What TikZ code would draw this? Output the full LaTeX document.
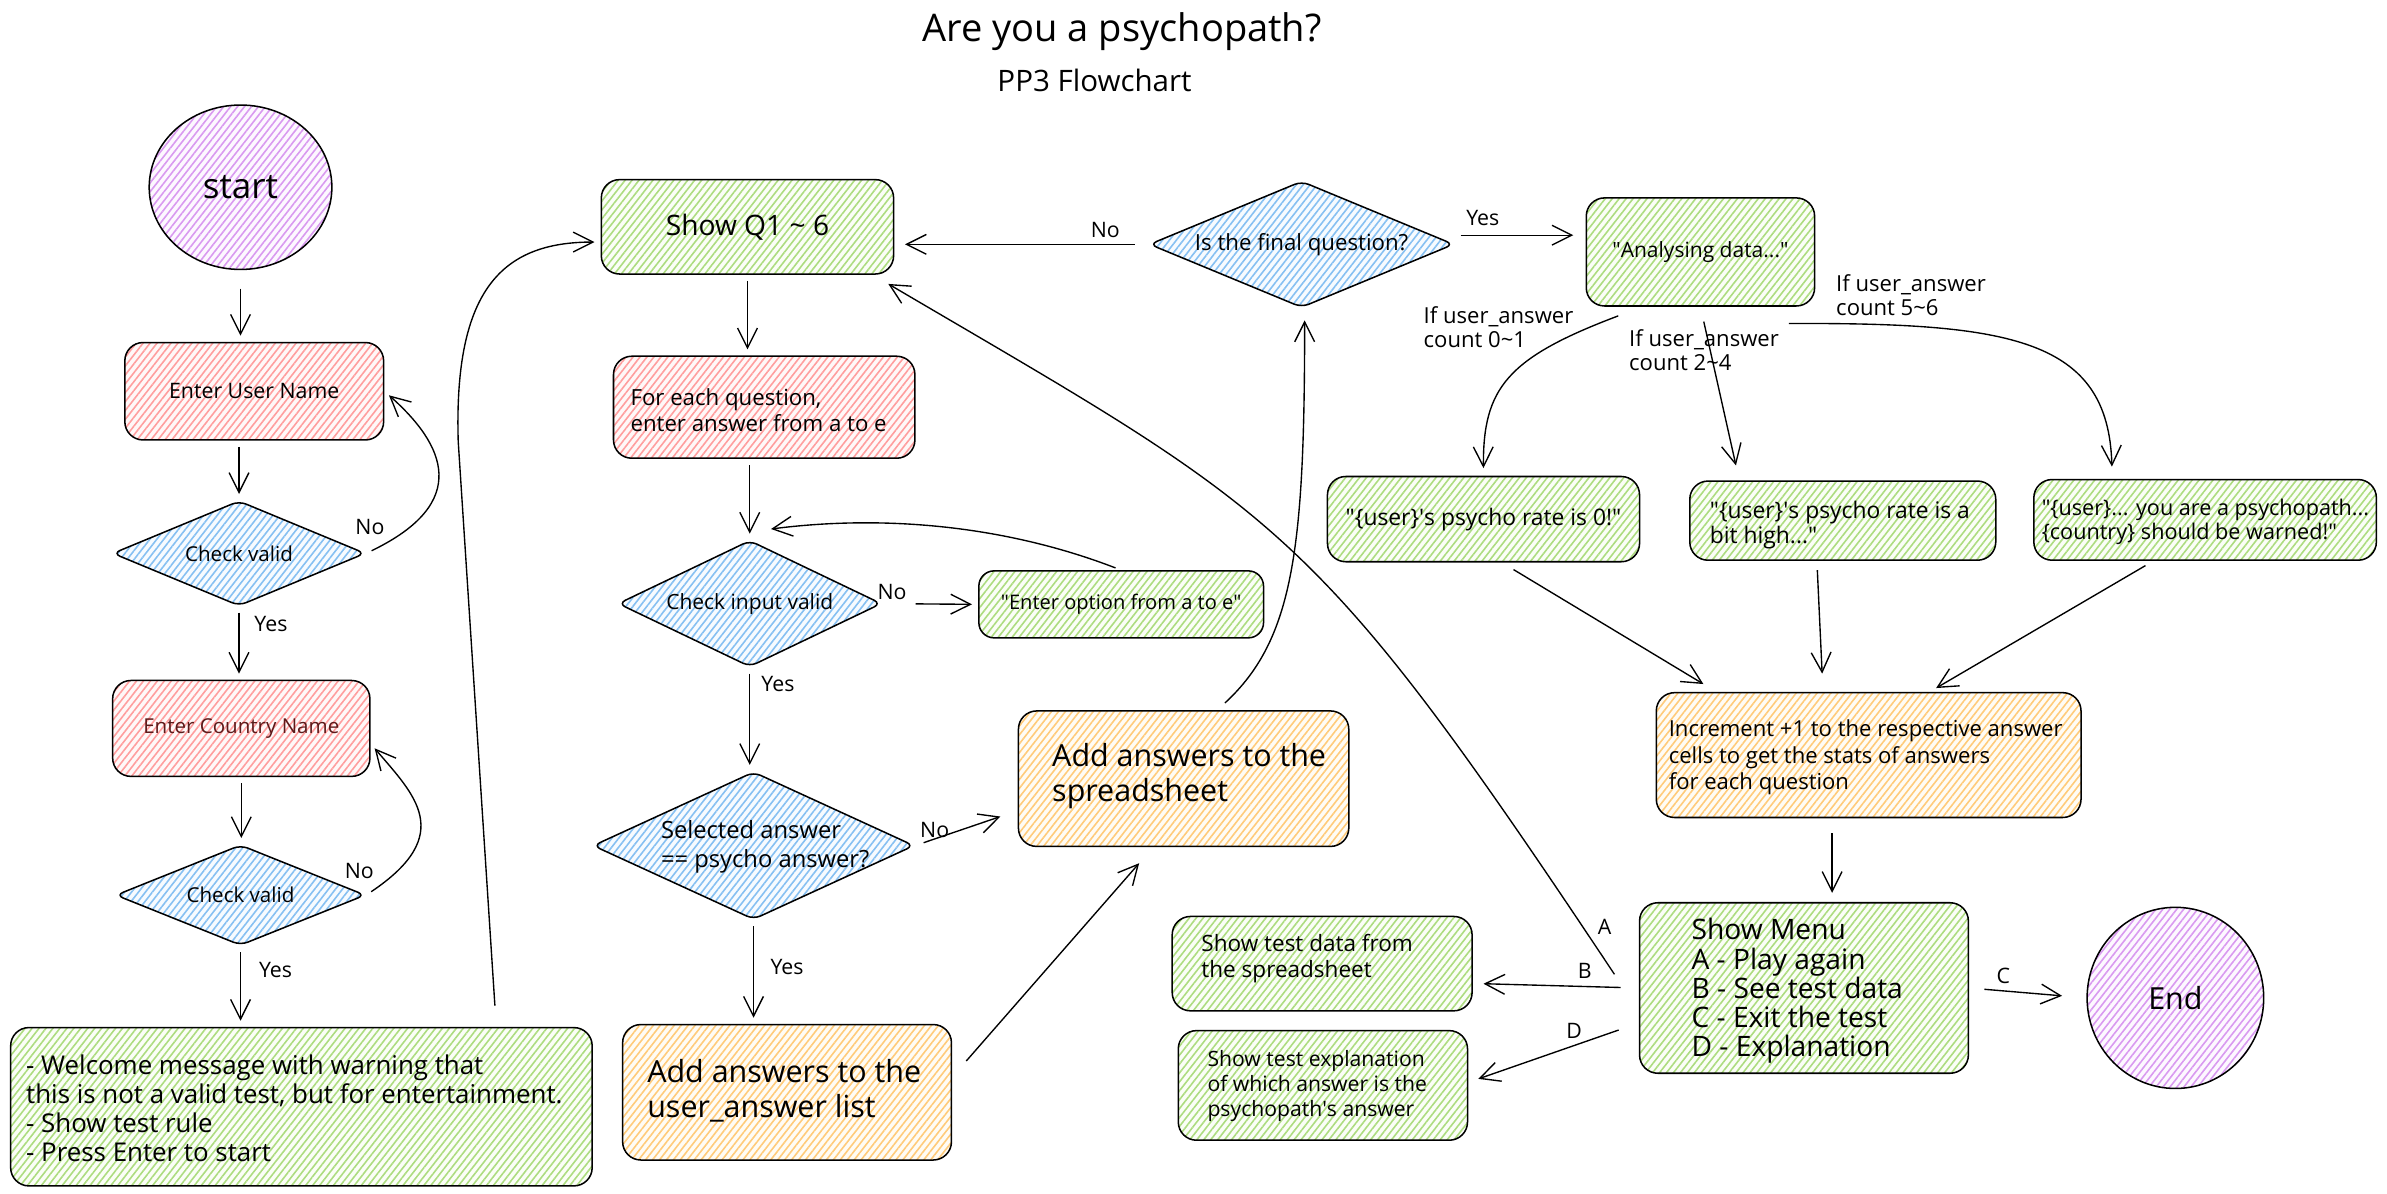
\documentclass[tikz,border=0pt]{standalone}
\usepackage{fontspec}
\setmainfont{Open Sans}
\usetikzlibrary{shapes.geometric,arrows.meta,patterns.meta}
\definecolor{grH}{HTML}{ADDC80}
\definecolor{grL}{HTML}{FBFEF7}
\definecolor{rdH}{HTML}{FF9E9E}
\definecolor{rdL}{HTML}{FFF8F8}
\definecolor{blH}{HTML}{86C0F2}
\definecolor{blL}{HTML}{F7FBFF}
\definecolor{orH}{HTML}{FFCB7A}
\definecolor{orL}{HTML}{FFFCF5}
\definecolor{puH}{HTML}{D99AF0}
\definecolor{puL}{HTML}{FDF8FF}
\definecolor{darkred}{HTML}{5C1A1A}
\newcommand\myfs[2]{\fontsize{#1}{#2}\selectfont}
\newcommand\qq{\textquotedbl}
\newcommand\ap{\textquotesingle}
\begin{document}
\begin{tikzpicture}[x=1pt,y=-1pt,
  hatch/.style 2 args={preaction={fill=#1},pattern={Lines[angle=52,distance=3.6pt,line width=1.05pt]},pattern color=#2},
  box/.style={draw=black,line width=1pt,rounded corners=12pt,inner sep=3pt,align=left},
  grbox/.style={box,hatch={grL}{grH}},
  rdbox/.style={box,hatch={rdL}{rdH}},
  orbox/.style={box,hatch={orL}{orH}},
  dia/.style={diamond,draw=black,line width=1pt,rounded corners=5pt,inner sep=0pt,align=left,hatch={blL}{blH}},
  oval/.style={ellipse,draw=black,line width=1pt,inner sep=0pt,hatch={puL}{puH}},
  arr/.style={-{Straight Barb[length=13pt,width=13pt]},line width=0.9pt,shorten >=4pt,shorten <=4pt},
  lbl/.style={inner sep=0pt,font=\myfs{14}{16}},
  txt/.style={inner sep=0pt,align=left,anchor=west},
  cond/.style={txt,font=\myfs{14.5}{16}},
]
\fill[white] (0,0) rectangle (1568,784.3);
\useasboundingbox (0,0) rectangle (1568,784.3);

% titles
\node (title) at (737,21) {\myfs{25}{28}Are you a psychopath?};
\node (sub) at (719,53) {\myfs{19.4}{22}PP3 Flowchart};

% left column
\node[oval,minimum width=120pt,minimum height=108pt,font=\myfs{23}{26}] (start) at (158,123) {start};
\node[rdbox,minimum width=170pt,minimum height=64pt,font=\myfs{14}{17}] (user) at (167,257) {Enter User Name};
\node[dia,aspect=2.4,minimum width=166pt,minimum height=69pt,font=\myfs{13.5}{15}] (cv1) at (157,363.5) {Check valid};
\node[rdbox,minimum width=169pt,minimum height=63pt,font=\myfs{13.5}{16},text=darkred] (country) at (158.5,478.5) {Enter Country Name};
\node[dia,aspect=2.48,minimum width=164pt,minimum height=66pt,font=\myfs{13.5}{15}] (cv2) at (158,588) {Check valid};
\node[grbox,minimum width=382pt,minimum height=104pt] (welcome) at (198,727) {};
\node[txt,font=\myfs{17}{19}] (welcomet) at (17,728) {- Welcome message with warning that\\this is not a valid test, but for entertainment.\\- Show test rule\\- Press Enter to start};

% middle column
\node[grbox,minimum width=192pt,minimum height=62pt,font=\myfs{18.5}{22}] (showq) at (491,149) {Show Q1 \textasciitilde{} 6};
\node[rdbox,minimum width=198pt,minimum height=67pt] (foreach) at (502,267.5) {};
\node[txt,font=\myfs{14.6}{17}] (foreacht) at (414,269.5) {For each question,\\enter answer from a to e};
\node[dia,aspect=2.08,minimum width=173pt,minimum height=83pt,font=\myfs{13.8}{15}] (civ) at (492.5,396.5) {Check input valid};
\node[grbox,minimum width=187pt,minimum height=44pt,rounded corners=10pt,font=\myfs{13.2}{15}] (option) at (736.5,397) {\qq Enter option from a to e\qq};
\node[dia,aspect=2.18,minimum width=211pt,minimum height=97pt] (selected) at (495,555.5) {};
\node[txt,font=\myfs{15.6}{19}] (selectedt) at (434,556.5) {Selected answer\\== psycho answer?};
\node[orbox,minimum width=217pt,minimum height=89pt] (spread) at (777.5,511.5) {};
\node[txt,font=\myfs{20}{23}] (spreadt) at (691,509.5) {Add answers to the\\spreadsheet};
\node[orbox,minimum width=216pt,minimum height=89pt] (ualist) at (517,717.5) {};
\node[txt,font=\myfs{20}{23}] (ualistt) at (425,716.5) {Add answers to the\\user\_answer list};

% right part
\node[dia,aspect=2.41,minimum width=200pt,minimum height=83pt,font=\myfs{14.6}{16}] (final) at (855,160.5) {Is the final question?};
\node[grbox,minimum width=150pt,minimum height=71pt,font=\myfs{13.8}{15}] (analysing) at (1117,165.5) {\qq Analysing data...\qq};
\node[grbox,minimum width=205pt,minimum height=56pt,font=\myfs{15}{16}] (result1) at (974.5,341) {\qq\{user\}\ap s psycho rate is 0!\qq};
\node[grbox,minimum width=201pt,minimum height=52pt] (result2) at (1210.5,342) {};
\node[txt,font=\myfs{15}{16}] (result2t) at (1123,345) {\qq\{user\}\ap s psycho rate is a\\bit high...\qq};
\node[grbox,minimum width=225pt,minimum height=53pt] (result3) at (1448.5,341.5) {};
\node[txt,font=\myfs{14.2}{16}] (result3t) at (1341,343) {\qq\{user\}... you are a psychopath...\\\{country\} should be warned!\qq};
\node[orbox,minimum width=279pt,minimum height=82pt] (increment) at (1227.5,496) {};
\node[txt,font=\myfs{14.5}{17.5}] (incrementt) at (1096,497.5) {Increment +1 to the respective answer\\cells to get the stats of answers\\for each question};
\node[grbox,minimum width=216pt,minimum height=112pt] (menu) at (1185,649) {};
\node[txt,font=\myfs{18.5}{19.2}] (menut) at (1111,651) {Show Menu\\A - Play again\\B - See test data\\C - Exit the test\\D - Explanation};
\node[oval,minimum width=116pt,minimum height=119pt,font=\myfs{20}{24}] (endc) at (1429,655.5) {End};
\node[grbox,minimum width=197pt,minimum height=62pt] (testdata) at (868.5,633) {};
\node[txt,font=\myfs{14.8}{17}] (testdatat) at (789,629.5) {Show test data from\\the spreadsheet};
\node[grbox,minimum width=190pt,minimum height=72pt] (testexpl) at (869,713) {};
\node[txt,font=\myfs{13.9}{16.5}] (testexplt) at (793,713.5) {Show test explanation\\of which answer is the\\psychopath\ap s answer};

% labels
\node[lbl] (nou) at (243,346) {No};
\node[lbl] (yesu) at (178,410) {Yes};
\node[lbl] (noc) at (236,572) {No};
\node[lbl] (yesc) at (181,637) {Yes};
\node[lbl] (nof) at (726,151) {No};
\node[lbl] (yesi) at (511,449) {Yes};
\node[lbl] (noi) at (586,389) {No};
\node[lbl] (nos) at (614,545) {No};
\node[lbl] (yess) at (517,635) {Yes};
\node[lbl] (yesf) at (974,143) {Yes};
\node[cond] (c01) at (935,215) {If user\_answer\\count 0\textasciitilde{}1};
\node[cond] (c24) at (1070,230) {If user\_answer\\count 2\textasciitilde{}4};
\node[cond] (c56) at (1206,194) {If user\_answer\\count 5\textasciitilde{}6};
\node[lbl] (la) at (1054,609) {A};
\node[lbl] (lb) at (1041,638) {B};
\node[lbl] (lc) at (1316,641) {C};
\node[lbl] (ld) at (1034,677) {D};

% connectors
\draw[arr,shorten <=12pt] (start.south) -- (start.south |- user.north);
\draw[arr] (user.south -| cv1.north) -- (cv1.north);
\draw[arr] (cv1.east) .. controls (310,330) and (292,292) .. (user.east);
\draw[arr] (cv1.south) -- (cv1.south |- country.north);
\draw[arr] (country.south) -- (country.south |- cv2.north);
\draw[arr] (cv2.east) .. controls (300,548) and (272,522) .. ([yshift=-10pt]country.east);
\draw[arr] (cv2.south) -- (cv2.south |- welcome.north);
\draw[arr,shorten <=14pt] ([xshift=128pt]welcome.north) -- (301,290) .. controls (298,190) and (330,159) .. ([yshift=-10pt]showq.west);
\draw[arr] (showq.south) -- (showq.south |- foreach.north);
\draw[arr] (foreach.south -| civ.north) -- (civ.north);
\draw[arr,shorten <=22pt] (civ.east) -- (option.west);
\draw[arr,shorten >=0pt] (option.north) .. controls (660,345) and (580,338) .. ([xshift=14pt,yshift=7pt]civ.north);
\draw[arr] (civ.south) -- (civ.south |- selected.north);
\draw[arr,shorten <=6pt,shorten >=12pt] (selected.east) -- ([yshift=-21pt]spread.west);
\draw[arr] (selected.south) -- (selected.south |- ualist.north);
\draw[arr,shorten <=14pt,shorten >=14pt] ([yshift=10pt]ualist.east) -- ([xshift=-20pt]spread.south);
\draw[arr,shorten <=7pt,shorten >=8pt] ([xshift=22pt]spread.north) .. controls (850,420) and (857,360) .. ([xshift=2pt]final.south);
\draw[arr,shorten <=9pt,shorten >=7pt] (final.west) -- (final.west -| showq.east);
\draw[arr,shorten <=4pt,shorten >=8pt] ([yshift=6pt]final.east) -- ([yshift=6pt]final.east -| analysing.west);
\draw[arr,shorten <=0pt,shorten >=5pt] ([xshift=-54pt,yshift=-6pt]analysing.south) .. controls (990,235) and (974,255) .. (result1.north);
\draw[arr,shorten <=10pt,shorten >=10pt] (analysing.south) -- ([xshift=-68pt]result2.north);
\draw[arr,shorten <=0pt,shorten >=8pt] ([xshift=58pt,yshift=-11pt]analysing.south) .. controls (1320,212) and (1385,222) .. ([xshift=-61pt]result3.north);
\draw[arr,shorten <=9pt,shorten >=10pt] ([xshift=12pt]result1.south) -- ([xshift=-100pt]increment.north);
\draw[arr,shorten <=6pt,shorten >=12pt] ([xshift=-17pt]result2.south) -- ([xshift=-30pt]increment.north);
\draw[arr,shorten <=6pt,shorten >=5pt] ([xshift=-34pt]result3.south) -- ([xshift=40pt]increment.north);
\draw[arr,shorten <=10pt,shorten >=6pt] ([xshift=-24pt]increment.south) -- ([xshift=-24pt]increment.south |- menu.north);
\draw[arr,shorten <=10pt,shorten >=16pt] (menu.east) -- (endc.west);
\draw[arr,shorten <=12pt,shorten >=7pt] (menu.west) -- ([yshift=-13pt]testdata.east);
\draw[arr,shorten <=14pt,shorten >=7pt] ([yshift=-23pt]menu.west) -- ([yshift=2pt]testexpl.east);
\draw[arr,shorten <=0pt,shorten >=0pt] ([xshift=-16pt,yshift=9pt]menu.west) .. controls (861,340) and (843,339) .. ([xshift=-4pt,yshift=-6pt]showq.south east);
\end{tikzpicture}
\end{document}
